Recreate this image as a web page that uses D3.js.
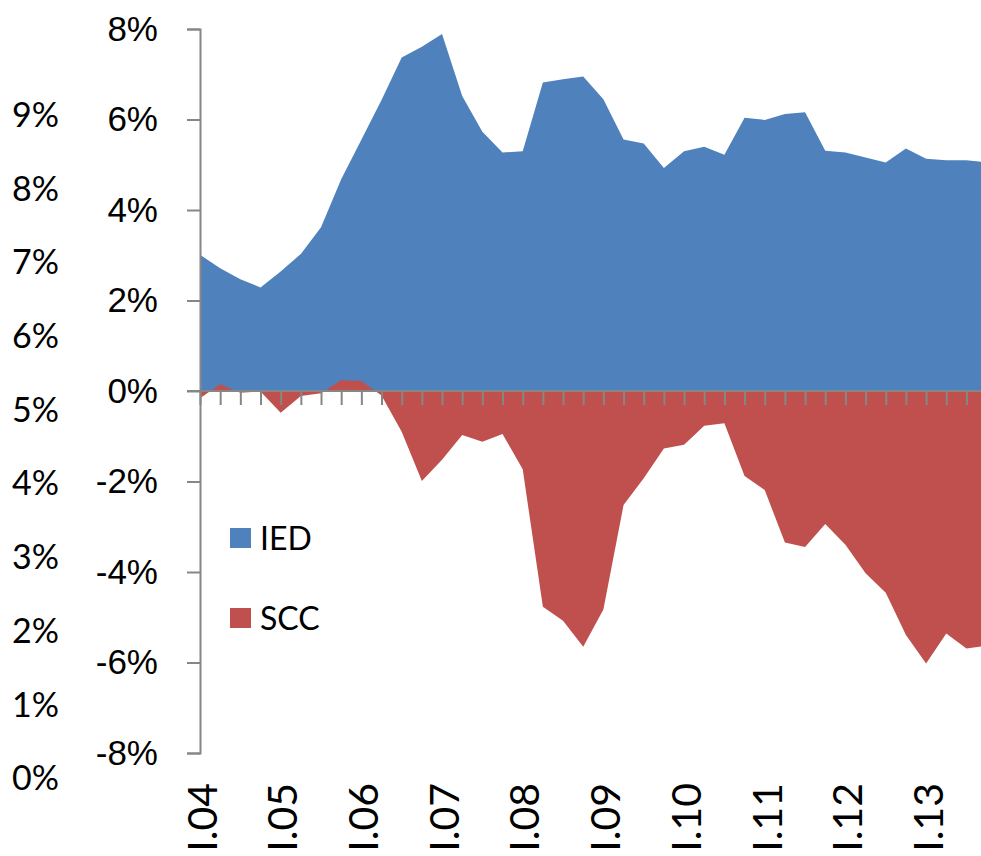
<!DOCTYPE html>
<html>
<head>
<meta charset="utf-8">
<script src="https://cdn.jsdelivr.net/npm/d3@7"></script>
<style>
  body { margin: 0; background: #fff; }
  svg { display: block; font-family: Lato, "Open Sans", sans-serif; }
</style>
</head>
<body>
<div id="chart"></div>
<script>
// quarterly data, I.04 .. IV.13 (values in %)
const quarters = d3.range(40);
const xLabels = ["I.04", "I.05", "I.06", "I.07", "I.08", "I.09", "I.10", "I.11", "I.12", "I.13"];

const ied = [3.01, 2.71, 2.47, 2.29, 2.64, 3.03, 3.62, 4.68, 5.55, 6.43,
             7.37, 7.61, 7.89, 6.52, 5.73, 5.27, 5.30, 6.82, 6.89, 6.95,
             6.45, 5.56, 5.47, 4.93, 5.30, 5.40, 5.22, 6.04, 5.99, 6.12,
             6.16, 5.31, 5.27, 5.16, 5.05, 5.36, 5.13, 5.10, 5.10, 5.05];

const scc = [-0.16, 0.15, -0.04, -0.01, -0.48, -0.11, -0.05, 0.24, 0.22, -0.10,
             -0.90, -1.99, -1.52, -0.97, -1.12, -0.95, -1.73, -4.77, -5.08, -5.65,
             -4.83, -2.52, -1.93, -1.27, -1.19, -0.77, -0.71, -1.88, -2.19, -3.35,
             -3.45, -2.94, -3.40, -4.03, -4.46, -5.39, -6.02, -5.36, -5.69, -5.63];

const yTicks = [-8, -6, -4, -2, 0, 2, 4, 6, 8];
const y2Ticks = [0, 1, 2, 3, 4, 5, 6, 7, 8, 9];

const series = [
    { name: "IED", values: ied, color: "#4F81BD" },
    { name: "SCC", values: scc, color: "#C0504D" }
];

const width = 981, height = 856;
const axisColor = "#868686";

const svg = d3.select("#chart")
    .append("svg")
    .attr("width", width)
    .attr("height", height);

// last quarter sits just past the right edge of the picture
const x = d3.scaleLinear().domain([0, 39]).range([200, 986.6]);
const y = d3.scaleLinear().domain([-8, 8]).range([753, 29]);
const y2 = d3.scaleLinear().domain([0, 10]).range([778, 41]);

// areas (SCC drawn on top of IED)
const area = d3.area()
    .x((d, i) => x(i))
    .y0(y(0))
    .y1(d => y(d));

svg.selectAll(".area")
    .data(series)
    .enter()
    .append("path")
    .attr("class", "area")
    .attr("d", d => area(d.values))
    .attr("fill", d => d.color);

// secondary (ghost) axis labels on the far left
svg.append("g")
    .selectAll("text")
    .data(y2Ticks)
    .enter()
    .append("text")
    .attr("x", 59)
    .attr("y", d => y2(d))
    .attr("dy", "0.36em")
    .attr("text-anchor", "end")
    .style("font-size", "34px")
    .text(d => d + "%");

// y axis
const yAxis = svg.append("g")
    .attr("transform", "translate(200,0)")
    .call(d3.axisLeft(y).tickValues(yTicks).tickSize(13).tickPadding(29).tickFormat(d => d + "%"));
yAxis.select(".domain").attr("stroke", axisColor).attr("stroke-width", 2);
yAxis.selectAll(".tick line").attr("stroke", axisColor).attr("stroke-width", 2);
yAxis.selectAll(".tick text")
    .style("font-size", "35px")
    .attr("fill", "#000");

// x axis along zero line
const xAxis = svg.append("g")
    .attr("transform", `translate(0,${y(0)})`)
    .call(d3.axisBottom(x).tickValues(quarters).tickSize(14).tickFormat(""));
xAxis.select(".domain").remove();
xAxis.append("line")
    .attr("x1", 187).attr("x2", width)
    .attr("stroke", axisColor).attr("stroke-width", 2);
xAxis.selectAll(".tick line").attr("stroke", axisColor).attr("stroke-width", 2);

// rotated category labels, one every 4 quarters
svg.append("g")
    .selectAll("text")
    .data(xLabels)
    .enter()
    .append("text")
    .attr("transform", (d, i) => `translate(${x(i * 4) + 2},783) rotate(-90)`)
    .attr("dy", "0.36em")
    .attr("text-anchor", "end")
    .style("font-size", "41px")
    .text(d => d);

// legend
const legend = svg.append("g")
    .selectAll("g")
    .data(series)
    .enter()
    .append("g")
    .attr("transform", (d, i) => `translate(230,${528 + i * 80})`);

legend.append("rect")
    .attr("width", 21)
    .attr("height", 20)
    .attr("fill", d => d.color);

legend.append("text")
    .attr("x", 30)
    .attr("y", 10)
    .attr("dy", "0.36em")
    .style("font-size", "32px")
    .text(d => d.name);
</script>
</body>
</html>
